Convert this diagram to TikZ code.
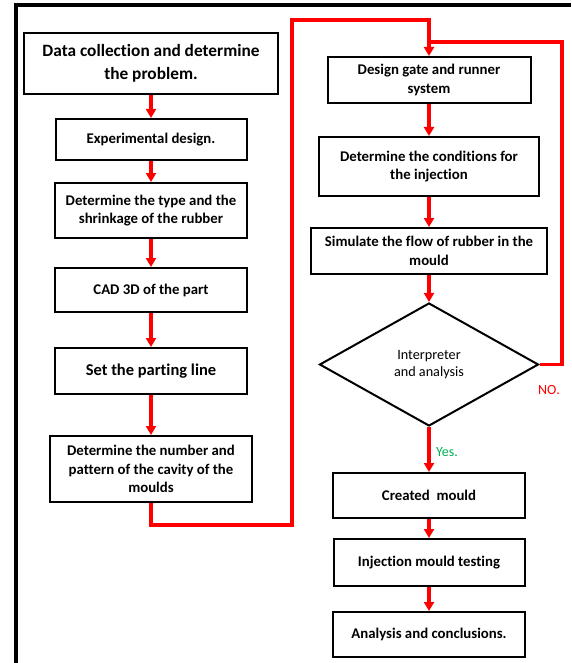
\documentclass[tikz,border=0pt]{standalone}
\usepackage{fontspec}
\setmainfont[Ligatures=NoCommon]{Carlito}
\usetikzlibrary{arrows.meta,positioning,shapes.geometric}
\definecolor{yesgreen}{RGB}{0,176,80}

\begin{document}
\begin{tikzpicture}[x=1pt,y=-1pt,
  box/.style={draw,line width=2pt,align=center,inner sep=2pt,
    font=\bfseries\fontsize{14.8}{18.5}\selectfont},
  flow/.style={red,line width=3.2pt,-{Triangle[length=9pt,width=10pt]}},
  loopline/.style={red,line width=3.2pt}]
  \useasboundingbox (0,0) rectangle (571,663);
  % outer frame
  \draw[line width=4pt] (16,663) -- (16,5) -- (571,5);

  % left column
  \node[box,minimum width=254pt,minimum height=61pt,font=\bfseries\fontsize{17.3}{23}\selectfont] (data) at (151,63.5) {Data collection and determine\\the problem.};
  \node[box,minimum width=191pt,minimum height=41pt] (exp) at (151,139.5) {Experimental design.};
  \node[box,minimum width=192pt,minimum height=55pt] (rubber) at (151,210.5) {Determine the type and the\\shrinkage of the rubber};
  \node[box,minimum width=192pt,minimum height=44pt] (cad) at (151,290) {CAD 3D of the part};
  \node[box,minimum width=192pt,minimum height=46pt,font=\bfseries\fontsize{16.5}{18}\selectfont] (parting) at (151,371) {Set the parting line};
  \node[box,minimum width=202pt,minimum height=66pt] (cavity) at (151,469) {Determine the number and\\pattern of the cavity of the\\moulds};

  % right column
  \node[box,minimum width=203pt,minimum height=46pt] (gate) at (429,80) {Design gate and runner\\system};
  \node[box,minimum width=220pt,minimum height=59pt] (cond) at (429,166.5) {Determine the conditions for\\the injection};
  \node[box,minimum width=236pt,minimum height=46pt] (sim) at (429,251) {Simulate the flow of rubber in the\\mould};
  \node[draw,diamond,line width=2pt,minimum width=219pt,minimum height=123pt,aspect=1.78,inner sep=0pt,align=center,
    font=\fontsize{14.2}{17.5}\selectfont] (check) at (429,364.5) {Interpreter\\and analysis};
  \node[box,minimum width=192pt,minimum height=45pt] (mould) at (429,495.5) {Created\ \ mould};
  \node[box,minimum width=191pt,minimum height=47pt] (test) at (429,562.5) {Injection mould testing};
  \node[box,minimum width=192pt,minimum height=45pt] (concl) at (429,634.5) {Analysis and conclusions.};

  % labels
  \node[text=red,font=\fontsize{14}{16}\selectfont] (no) at (549,390) {NO.};
  \node[text=yesgreen,font=\fontsize{14}{16}\selectfont] (yes) at (447,452) {Yes.};

  % connectors
  \draw[flow] (data) -- (exp);
  \draw[flow] (exp) -- (rubber);
  \draw[flow] (rubber) -- (cad);
  \draw[flow] (cad) -- (parting);
  \draw[flow] (parting) -- (cavity);
  \draw[flow] (cavity.south) -- ++(0,22) -| (292,20) -| (gate.north);
  \draw[flow] (gate) -- (cond);
  \draw[flow] (cond) -- (sim);
  \draw[flow] (sim) -- (check);
  \draw[loopline] (check.east) -| (562,42) -- (429,42);
  \draw[flow] (check) -- (mould);
  \draw[flow] (mould) -- (test);
  \draw[flow] (test) -- (concl);
\end{tikzpicture}
\end{document}
